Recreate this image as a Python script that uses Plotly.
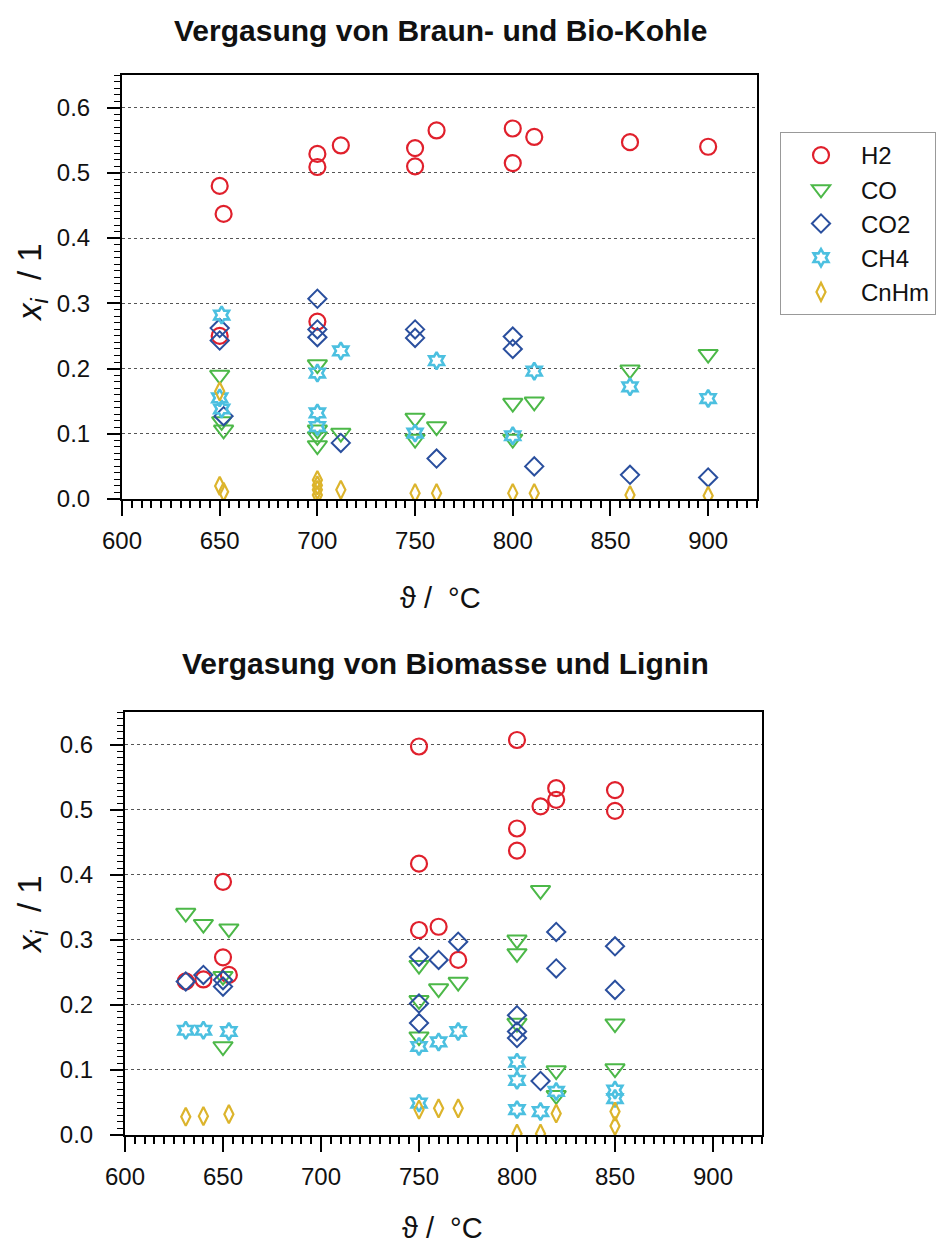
import plotly.graph_objects as go

# ---- Vergasung von Braun- und Bio-Kohle (oberes Diagramm) ----
kohle_h2_t = [650, 652, 650, 700, 700, 700, 712, 750, 750, 761, 800, 800, 811, 860, 900]
kohle_h2_x = [0.480, 0.437, 0.250, 0.529, 0.509, 0.272, 0.542, 0.538, 0.510, 0.565, 0.568, 0.515, 0.555, 0.547, 0.540]

kohle_co_t = [650, 651, 652, 700, 700, 700, 700, 712, 750, 750, 761, 800, 800, 811, 860, 900]
kohle_co_x = [0.190, 0.119, 0.106, 0.206, 0.106, 0.096, 0.082, 0.101, 0.124, 0.092, 0.111, 0.147, 0.092, 0.149, 0.198, 0.222]

kohle_co2_t = [650, 650, 652, 700, 700, 700, 712, 750, 750, 761, 800, 800, 811, 860, 900]
kohle_co2_x = [0.262, 0.243, 0.127, 0.307, 0.260, 0.248, 0.086, 0.260, 0.247, 0.062, 0.249, 0.230, 0.050, 0.037, 0.033]

kohle_ch4_t = [651, 650, 651, 700, 700, 700, 712, 750, 761, 800, 811, 860, 900]
kohle_ch4_x = [0.282, 0.155, 0.138, 0.193, 0.132, 0.111, 0.227, 0.101, 0.212, 0.097, 0.196, 0.172, 0.154]

kohle_cnhm_t = [650, 650, 652, 700, 700, 700, 700, 712, 750, 761, 800, 811, 860, 900]
kohle_cnhm_x = [0.165, 0.020, 0.011, 0.029, 0.021, 0.014, 0.006, 0.014, 0.009, 0.009, 0.009, 0.009, 0.006, 0.005]

# ---- Vergasung von Biomasse und Lignin (unteres Diagramm) ----
bio_h2_t = [631, 640, 650, 650, 653, 750, 750, 750, 760, 770, 800, 800, 800, 812, 820, 820, 850, 850]
bio_h2_x = [0.236, 0.239, 0.389, 0.273, 0.246, 0.597, 0.417, 0.315, 0.320, 0.269, 0.607, 0.471, 0.437, 0.505, 0.533, 0.515, 0.530, 0.498]

bio_co_t = [631, 640, 653, 650, 650, 750, 750, 750, 760, 770, 800, 800, 800, 812, 820, 820, 850, 850]
bio_co_x = [0.341, 0.324, 0.317, 0.244, 0.136, 0.261, 0.207, 0.151, 0.225, 0.235, 0.300, 0.279, 0.172, 0.376, 0.099, 0.061, 0.171, 0.102]

bio_co2_t = [631, 640, 650, 650, 750, 750, 750, 760, 770, 800, 800, 800, 812, 820, 820, 850, 850]
bio_co2_x = [0.236, 0.246, 0.238, 0.228, 0.274, 0.202, 0.172, 0.269, 0.297, 0.184, 0.159, 0.149, 0.083, 0.312, 0.256, 0.290, 0.223]

bio_ch4_t = [631, 640, 653, 750, 750, 760, 770, 800, 800, 800, 812, 820, 850, 850]
bio_ch4_x = [0.161, 0.161, 0.159, 0.136, 0.049, 0.143, 0.159, 0.112, 0.084, 0.039, 0.036, 0.067, 0.069, 0.056]

bio_cnhm_t = [631, 640, 653, 750, 760, 770, 800, 812, 820, 850, 850]
bio_cnhm_x = [0.028, 0.029, 0.032, 0.039, 0.041, 0.041, 0.002, 0.002, 0.033, 0.036, 0.014]

species = ["H2", "CO", "CO2", "CH4", "CnHm"]
colors = {"H2": "#e0202c", "CO": "#4cb848", "CO2": "#2a4f9e", "CH4": "#4cc0e0", "CnHm": "#dcb42c"}
symbols = {"H2": "circle-open", "CO": "triangle-down-open", "CO2": "diamond-open",
           "CH4": "hexagram-open", "CnHm": "diamond-tall-open"}
sizes = {"H2": 16, "CO": 17, "CO2": 14, "CH4": 13, "CnHm": 13}
widths = {"H2": 2.2, "CO": 2.0, "CO2": 2.0, "CH4": 2.6, "CnHm": 2.2}

kohle = {"H2": (kohle_h2_t, kohle_h2_x), "CO": (kohle_co_t, kohle_co_x),
         "CO2": (kohle_co2_t, kohle_co2_x), "CH4": (kohle_ch4_t, kohle_ch4_x),
         "CnHm": (kohle_cnhm_t, kohle_cnhm_x)}
bio = {"H2": (bio_h2_t, bio_h2_x), "CO": (bio_co_t, bio_co_x),
       "CO2": (bio_co2_t, bio_co2_x), "CH4": (bio_ch4_t, bio_ch4_x),
       "CnHm": (bio_cnhm_t, bio_cnhm_x)}

W, H = 939, 1246
fig = go.Figure()


def marker(name):
    return dict(symbol=symbols[name], size=sizes[name], color=colors[name],
                line=dict(width=widths[name], color=colors[name]))


for name in species:
    t, x = kohle[name]
    fig.add_trace(go.Scatter(x=t, y=x, mode="markers", name=name, legendgroup=name,
                             marker=marker(name), xaxis="x", yaxis="y"))

for name in species:
    t, x = bio[name]
    fig.add_trace(go.Scatter(x=t, y=x, mode="markers", name=name, legendgroup=name,
                             showlegend=False, marker=marker(name),
                             xaxis="x2", yaxis="y2"))

FONT = "Liberation Sans, Arial, sans-serif"


def xaxis_style(domain, anchor):
    return dict(
        domain=domain, anchor=anchor, range=[600, 925], tickmode="array",
        tickvals=[600, 650, 700, 750, 800, 850, 900],
        ticks="outside", ticklen=15, tickwidth=2, tickcolor="black",
        minor=dict(dtick=5, tick0=600, ticks="outside", ticklen=7, tickwidth=1.5,
                   tickcolor="black", showgrid=False),
        showline=True, linecolor="black", linewidth=2, mirror=True,
        showgrid=False, zeroline=False, automargin=False,
        tickfont=dict(family=FONT, size=24, color="#111"),
        ticklabelstandoff=4,
    )


def yaxis_style(domain, anchor):
    return dict(
        domain=domain, anchor=anchor, range=[0, 0.65], tickmode="array",
        tickvals=[0.0, 0.1, 0.2, 0.3, 0.4, 0.5, 0.6],
        ticktext=["0.0", "0.1", "0.2", "0.3", "0.4", "0.5", "0.6"],
        ticks="outside", ticklen=13, tickwidth=2, tickcolor="black",
        minor=dict(dtick=0.01, tick0=0, ticks="outside", ticklen=6, tickwidth=1.2,
                   tickcolor="black", showgrid=False),
        showline=True, linecolor="black", linewidth=2, mirror=True,
        showgrid=True, gridcolor="#555", griddash="dot", gridwidth=1,
        zeroline=False, automargin=False,
        tickfont=dict(family=FONT, size=24, color="#111"),
        ticklabelstandoff=12,
    )


top_y = [1 - 499 / H, 1 - 75 / H]
bot_y = [1 - 1135 / H, 1 - 712 / H]

fig.update_layout(
    width=W, height=H,
    margin=dict(l=0, r=0, t=0, b=0, autoexpand=False),
    paper_bgcolor="white", plot_bgcolor="white",
    xaxis=xaxis_style([122 / W, 757 / W], "y"),
    yaxis=yaxis_style(top_y, "x"),
    xaxis2=xaxis_style([125 / W, 762 / W], "y2"),
    yaxis2=yaxis_style(bot_y, "x2"),
    legend=dict(
        x=780 / W, y=1 - 132 / H, xanchor="left", yanchor="top",
        bordercolor="#999", borderwidth=1, bgcolor="white",
        font=dict(family=FONT, size=24, color="#111"),
        itemwidth=70, traceorder="grouped", tracegroupgap=0,
    ),
    font=dict(family=FONT, color="#111"),
)

annotations = [
    dict(text="<b>Vergasung von Braun- und Bio-Kohle</b>", x=440 / W, y=1 - 30 / H,
         font=dict(size=30)),
    dict(text="<b>Vergasung von Biomasse und Lignin</b>", x=445 / W, y=1 - 663 / H,
         font=dict(size=30)),
    dict(text="ϑ /  °C", x=440 / W, y=1 - 598 / H, font=dict(size=29)),
    dict(text="ϑ /  °C", x=442 / W, y=1 - 1228 / H, font=dict(size=29)),
    dict(text="<i>x</i><sub><i>i</i></sub>  / 1", x=32 / W, y=1 - 283 / H,
         textangle=-90, font=dict(size=33)),
    dict(text="<i>x</i><sub><i>i</i></sub>  / 1", x=32 / W, y=1 - 915 / H,
         textangle=-90, font=dict(size=33)),
]
for a in annotations:
    a.update(xref="paper", yref="paper", xanchor="center", yanchor="middle",
             showarrow=False)
    a["font"].update(family=FONT, color="#111")
fig.update_layout(annotations=annotations)

fig.write_html("out.html")
